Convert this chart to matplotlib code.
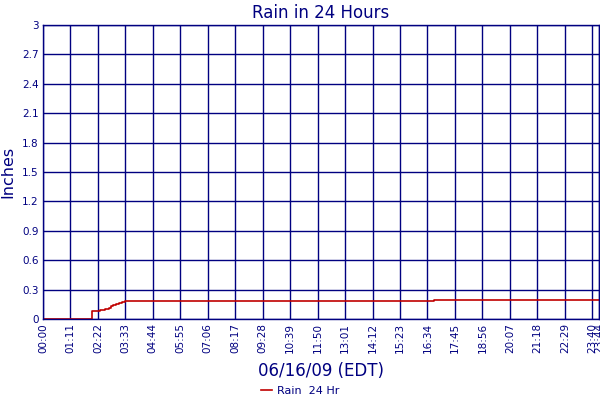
import numpy as np
import matplotlib
matplotlib.use("Agg")
import matplotlib.pyplot as plt

# rain accumulation, minutes after midnight -> inches
minutes = [0, 122, 126, 148, 160, 170, 176, 182, 188, 196, 204, 213, 1010, 1437]
rain = [0.0, 0.0, 0.085, 0.095, 0.10, 0.11, 0.13, 0.14, 0.15, 0.16, 0.17, 0.185, 0.195, 0.195]

tick_min = [0, 71, 142, 213, 284, 355, 426, 497, 568, 639, 710, 781, 852, 923,
            994, 1065, 1136, 1207, 1278, 1349, 1420, 1437]
tick_lab = ["00:00", "01:11", "02:22", "03:33", "04:44", "05:55", "07:06", "08:17",
            "09:28", "10:39", "11:50", "13:01", "14:12", "15:23", "16:34", "17:45",
            "18:56", "20:07", "21:18", "22:29", "23:40", "23:44"]
ytick = [0, 0.3, 0.6, 0.9, 1.2, 1.5, 1.8, 2.1, 2.4, 2.7, 3]
ytick_lab = ["0", "0.3", "0.6", "0.9", "1.2", "1.5", "1.8", "2.1", "2.4", "2.7", "3"]

navy = "#000080"
fig = plt.figure(figsize=(6, 4), dpi=100)
ax = fig.add_axes([0.0717, 0.2025, 0.9263, 0.735])

ax.step(minutes, rain, where="post", color="#c00000", lw=1.2, label="Rain  24 Hr")
ax.set_xlim(0, 1437)
ax.set_ylim(0, 3)
ax.set_xticks(tick_min)
ax.set_xticklabels(tick_lab, rotation=90, fontsize=7.5, color=navy)
ax.set_yticks(ytick)
ax.set_yticklabels(ytick_lab, fontsize=7.5, color=navy)
ax.tick_params(length=0, pad=3)
ax.grid(True, color=navy, lw=1)
for s in ax.spines.values():
    s.set_color(navy)
    s.set_linewidth(1)

ax.set_title("Rain in 24 Hours", color=navy, fontsize=12, pad=5)
ax.set_xlabel("06/16/09 (EDT)", color=navy, fontsize=12, labelpad=6)
ax.set_ylabel("Inches", color=navy, fontsize=11.5, labelpad=5)

leg = fig.legend(loc="lower center", bbox_to_anchor=(0.5, -0.015), frameon=False,
                 fontsize=8, handlelength=1.0, handletextpad=0.4)
for t in leg.get_texts():
    t.set_color(navy)

fig.savefig("out.png", dpi=100)
